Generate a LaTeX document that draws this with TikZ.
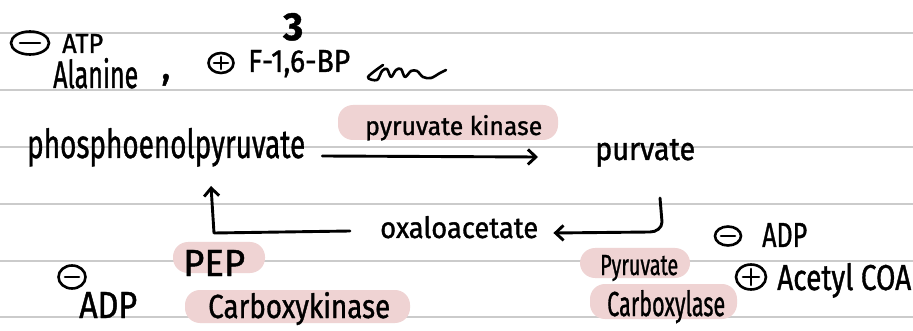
\documentclass[tikz,border=0pt]{standalone}
\usepackage{fontspec}
\setmainfont{Fira Sans}[FakeBold=1.2]
\usetikzlibrary{arrows.meta,shapes.geometric}
% text squeezed to a given width and height (above the baseline)
\newcommand\hand[3]{\resizebox{#1pt}{#2pt}{#3}}
\definecolor{paperline}{HTML}{CBCBCB}
\definecolor{marker}{HTML}{EFD3D3}
\tikzset{
  ink/.style={line width=2.9pt, line cap=round, line join=round},
  arr/.style={ink, -{Straight Barb[length=8pt,width=15pt]}},
  word/.style={inner sep=0pt, anchor=base west},
  sign/.style={ellipse, draw, line width=2.6pt, inner sep=0pt},
  hilite/.style={fill=marker, rounded corners=15pt, inner sep=0pt},
  ruled/.style={draw=paperline, line width=1.4pt}
}
\begin{document}
\begin{tikzpicture}[x=1pt,y=-1pt]
\useasboundingbox (0,0) rectangle (913,331);
\fill[white] (0,0) rectangle (913,331);

% ruled paper
\foreach \y in {33,90,147,204,261,317} \draw[ruled] (0,\y) -- (913,\y);

% highlighter marks
\node[hilite, minimum width=220pt, minimum height=35pt] (pkbg) at (448,122.5) {};
\node[hilite, minimum width=92pt,  minimum height=31pt] (pepbg) at (219,257.5) {};
\node[hilite, minimum width=225pt, minimum height=33pt] (ckbg) at (297.5,306.5) {};
\node[hilite, minimum width=110pt, minimum height=30pt] (pcabg) at (635,263) {};
\node[hilite, minimum width=147pt, minimum height=35pt] (pcbbg) at (663.5,301.5) {};

% regulators of pyruvate kinase
\node[sign, minimum width=38pt, minimum height=23pt] (m1) at (30,43) {};
\draw[ink, line width=2.6pt] ([xshift=-10pt]m1.center) -- ([xshift=10pt]m1.center);
\node[word] (atp) at (62,53) {\hand{41}{19}{ATP}};
\node[word] (ala) at (53,88) {\hand{85}{30}{Alanine}};
\node[word] (comma) at (161,79) {\fontsize{40}{40}\selectfont ,};
\node[sign, minimum width=25pt, minimum height=20pt] (p1) at (221,63) {};
\draw[ink, line width=2.6pt] ([xshift=-7pt]p1.center) -- ([xshift=7pt]p1.center)
  ([yshift=-6pt]p1.center) -- ([yshift=6pt]p1.center);
\node[word] (fbp) at (248,72) {\hand{102}{22}{F-1,6-BP}};
\node[word] (three) at (283,40) {\hand{20}{27}{\bfseries 3}};
\draw[ink, line width=2.6pt] plot[smooth, tension=0.55] coordinates {
  (383,65) (368,77) (377,80) (382,71) (387,69) (391,77) (396,70) (401,69)
  (405,77) (411,71) (417,71) (423,77) (431,78) (440,73) (446,70)};

% main reaction
\node[word] (pep) at (27,158) {\hand{278}{30}{phosphoenolpyruvate}};
\node[word] (pyr) at (595,160) {\hand{100}{21}{purvate}};
\node[word] (pk) at (365,135) {\hand{177}{20}{pyruvate kinase}};
\draw[arr] ([xshift=17pt]pep.east |- 0,156) -- ([xshift=-57pt]pyr.west |- 0,157);

% bypass through oxaloacetate
\node[word] (oxa) at (380,238) {\hand{158}{22}{oxaloacetate}};
\coordinate (pyrout) at (660,198);
\coordinate (bendL) at (214,233);
\coordinate (pepin) at (211,186);
\draw[arr] (pyrout) -- (662,222) to[out=-90,in=0] (650,232)
  -- ([xshift=15pt]oxa.east |- 0,233);
\draw[arr] ([xshift=-30pt]oxa.west |- 0,231) -- (bendL) -- (pepin);

% PEP carboxykinase
\node[word] (pepl) at (183,276) {\hand{62}{26}{PEP}};
\node[word] (ck) at (208,318) {\hand{182}{26}{Carboxykinase}};
\node[sign, minimum width=27pt, minimum height=23pt] (m2) at (72,277) {};
\draw[ink, line width=2.6pt] ([xshift=-7pt]m2.center) -- ([xshift=7pt]m2.center);
\node[word] (adp1) at (79,318) {\hand{58}{26}{ADP}};

% pyruvate carboxylase
\node[word] (pca) at (600,275) {\hand{78}{20}{Pyruvate}};
\node[word] (pcb) at (607,316) {\hand{118}{26}{Carboxylase}};
\node[sign, minimum width=26pt, minimum height=19pt] (m3) at (728,236) {};
\draw[ink, line width=2.6pt] ([xshift=-7pt]m3.center) -- ([xshift=7pt]m3.center);
\node[word] (adp2) at (762,247) {\hand{45}{24}{ADP}};
\node[sign, minimum width=30pt, minimum height=25pt] (p2) at (751,277) {};
\draw[ink, line width=2.6pt] ([xshift=-8pt]p2.center) -- ([xshift=8pt]p2.center)
  ([yshift=-8pt]p2.center) -- ([yshift=8pt]p2.center);
\node[word] (acoa) at (777,290) {\hand{134}{27}{Acetyl COA}};
\end{tikzpicture}
\end{document}
